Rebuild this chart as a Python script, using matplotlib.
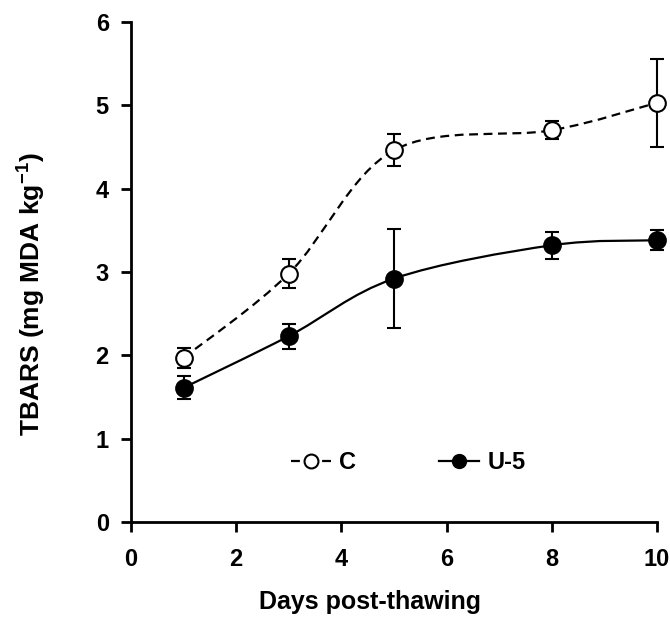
import matplotlib
matplotlib.use("Agg")
import matplotlib.pyplot as plt
from matplotlib.path import Path
from matplotlib.patches import PathPatch

plt.rcParams["font.family"] = ["Liberation Sans", "DejaVu Sans"]
plt.rcParams["font.weight"] = "bold"
plt.rcParams["mathtext.fontset"] = "custom"
plt.rcParams["mathtext.bf"] = "Liberation Sans:bold"
plt.rcParams["mathtext.rm"] = "Liberation Sans:bold"

days = [1, 3, 5, 8, 10]
c_mean = [1.97, 2.98, 4.46, 4.70, 5.03]
c_err = [0.12, 0.17, 0.19, 0.11, 0.53]
u5_mean = [1.61, 2.23, 2.92, 3.32, 3.38]
u5_err = [0.14, 0.15, 0.59, 0.16, 0.12]


def smooth_path(xs, ys):
    # Catmull-Rom style smoothing drawn as cubic Bezier segments
    pts = list(zip(xs, ys))
    verts = [pts[0]]
    codes = [Path.MOVETO]
    n = len(pts)
    for i in range(n - 1):
        p0 = pts[i - 1] if i > 0 else pts[i]
        p1 = pts[i]
        p2 = pts[i + 1]
        p3 = pts[i + 2] if i + 2 < n else pts[i + 1]
        c1 = (p1[0] + (p2[0] - p0[0]) / 6, p1[1] + (p2[1] - p0[1]) / 6)
        c2 = (p2[0] - (p3[0] - p1[0]) / 6, p2[1] - (p3[1] - p1[1]) / 6)
        verts += [c1, c2, p2]
        codes += [Path.CURVE4] * 3
    return Path(verts, codes)


fig = plt.figure(figsize=(6.7, 6.33), dpi=100)
ax = fig.add_axes([0.1955, 0.1754, 0.785, 0.79])

ax.add_patch(PathPatch(smooth_path(days, c_mean), fill=False, lw=1.6,
                       ls=(0, (4, 2.5)), color="black", zorder=2))
ax.add_patch(PathPatch(smooth_path(days, u5_mean), fill=False, lw=1.6,
                       color="black", zorder=2))

ax.errorbar(days, c_mean, yerr=c_err, fmt="o", ms=12, mfc="white",
            mec="black", mew=1.5, ecolor="black", elinewidth=1.5,
            capsize=5, capthick=1.5, zorder=3, clip_on=False)
ax.errorbar(days, u5_mean, yerr=u5_err, fmt="o", ms=12, mfc="black",
            mec="black", mew=1.5, ecolor="black", elinewidth=1.5,
            capsize=5, capthick=1.5, zorder=3, clip_on=False)

# legend handles
h_c, = ax.plot([], [], ls=(0, (4, 3)), lw=1.6, color="black", marker="o",
               ms=10, mfc="white", mec="black", mew=1.5)
h_u, = ax.plot([], [], ls="-", lw=1.6, color="black", marker="o",
               ms=10, mfc="black", mec="black")
ax.legend([h_c, h_u], ["C", "U-5"], loc="center", bbox_to_anchor=(0.527, 0.118),
          ncol=2, frameon=False, handlelength=1.7, columnspacing=3.5,
          handletextpad=0.35, prop={"weight": "bold", "size": 17})

ax.set_xlim(0, 10)
ax.set_ylim(0, 6)
ax.set_xticks([0, 2, 4, 6, 8, 10])
ax.set_yticks([0, 1, 2, 3, 4, 5, 6])
ax.spines["top"].set_visible(False)
ax.spines["right"].set_visible(False)
for s in ["left", "bottom"]:
    ax.spines[s].set_linewidth(2)
ax.tick_params(direction="out", length=7, width=2, labelsize=17)
ax.tick_params(axis="x", pad=12)
ax.tick_params(axis="y", pad=9)
for lab in ax.get_xticklabels() + ax.get_yticklabels():
    lab.set_fontweight("bold")

ax.set_xlabel("Days post-thawing", fontsize=18, fontweight="bold")
ax.xaxis.set_label_coords(0.455, -0.137)
ax.set_ylabel("TBARS (mg MDA kg$^{-1}$)", fontsize=19, fontweight="bold")
ax.yaxis.set_label_coords(-0.16, 0.455)

fig.savefig("out.png", dpi=100)
